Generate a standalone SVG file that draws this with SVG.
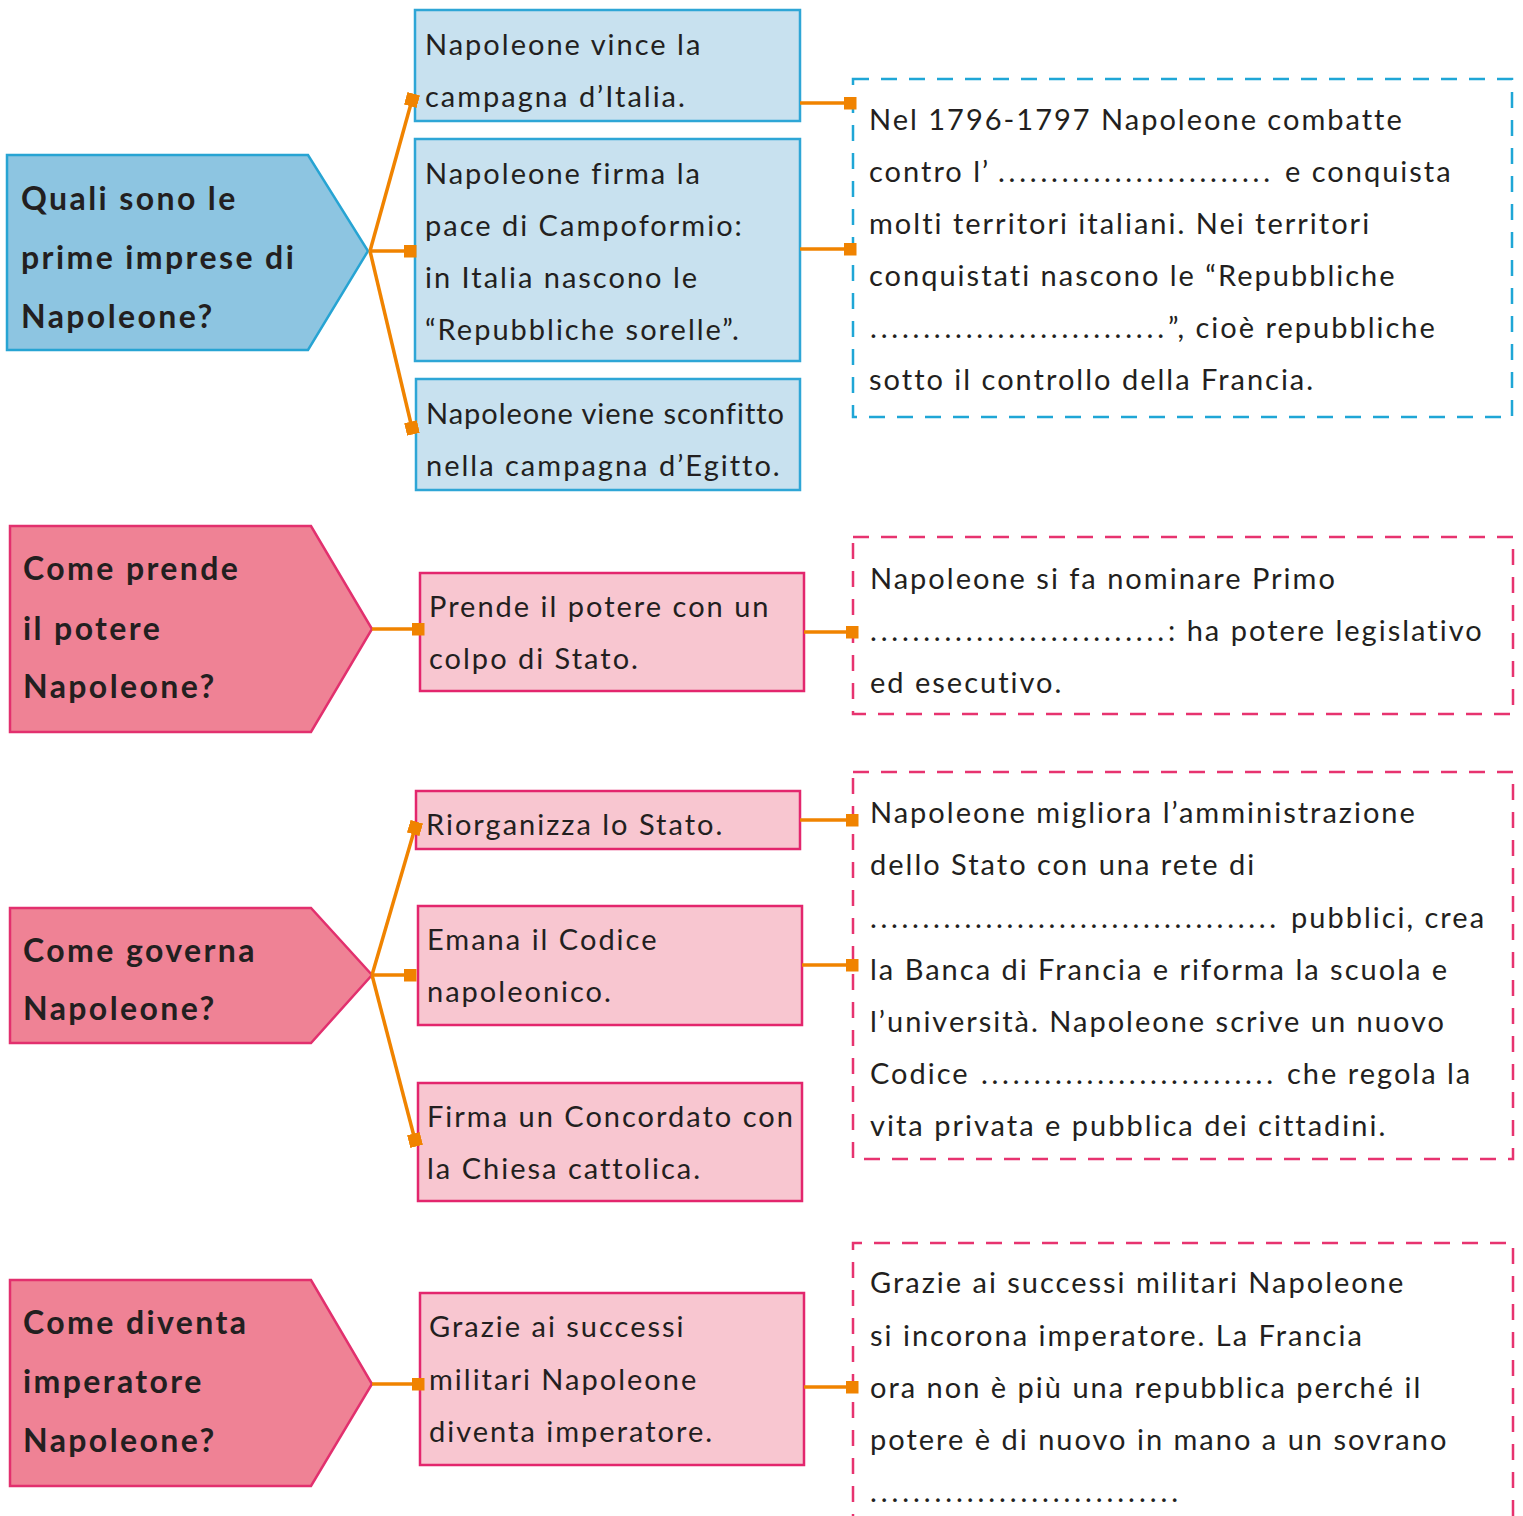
<svg xmlns="http://www.w3.org/2000/svg" width="1523" height="1516" viewBox="0 0 1523 1516">
<defs>
<style>
.t{font-family:Lato,"Open Sans","Liberation Sans",sans-serif;font-size:29px;letter-spacing:2px;fill:#231f20}
.q{font-family:Lato,"Open Sans","Liberation Sans",sans-serif;font-size:32px;font-weight:bold;letter-spacing:2.4px;fill:#231f20}
.d{font-family:Lato,"Open Sans","Liberation Sans",sans-serif;font-size:29px;fill:#231f20}
.qb{fill:#8dc5e1;stroke:#27a4d3;stroke-width:2.5}
.bb{fill:#c8e1ef;stroke:#2ea6d6;stroke-width:2.5}
.qp{fill:#ef8295;stroke:#e2306e;stroke-width:2.5}
.bp{fill:#f8c6d0;stroke:#e3266d;stroke-width:2.5}
.db{fill:none;stroke:#1fa6d6;stroke-width:2.5;stroke-dasharray:16 12}
.dp{fill:none;stroke:#e7336f;stroke-width:2.5;stroke-dasharray:16 12}
.c{fill:none;stroke:#f08300;stroke-width:3.5;marker-end:url(#sq)}
</style>
<marker id="sq" viewBox="0 0 10 10" refX="5" refY="5" markerWidth="13" markerHeight="13" markerUnits="userSpaceOnUse" orient="auto">
<rect x="0" y="0" width="10" height="10" fill="#f08300"/>
</marker>
</defs>

<g id="n1q">
<polygon class="qb" points="7,155 308,155 368,251 308,350 7,350"/>
<text class="q" x="21" y="210">Quali sono le</text>
<text class="q" x="21" y="269">prime imprese di</text>
<text class="q" x="21" y="328">Napoleone?</text>
</g>
<g id="n1a">
<rect class="bb" x="415" y="10" width="385" height="111"/>
<text class="t" x="425" y="55">Napoleone vince la</text>
<text class="t" x="425" y="107">campagna d’Italia.</text>
</g>
<g id="n1b">
<rect class="bb" x="415" y="139" width="385" height="222"/>
<text class="t" x="425" y="184">Napoleone firma la</text>
<text class="t" x="425" y="236">pace di Campoformio:</text>
<text class="t" x="425" y="288">in Italia nascono le</text>
<text class="t" x="425" y="340">“Repubbliche sorelle”.</text>
</g>
<g id="n1c">
<rect class="bb" x="416" y="379" width="384" height="111"/>
<text class="t" x="426" y="424" textLength="360" lengthAdjust="spacing">Napoleone viene sconfitto</text>
<text class="t" x="426" y="476">nella campagna d’Egitto.</text>
</g>
<g id="n1d">
<rect class="db" x="853" y="79" width="659" height="338"/>
<text class="t" x="869" y="130">Nel 1796-1797 Napoleone combatte</text>
<text class="t" x="869" y="182">contro l’</text>
<text class="d" x="998" y="182" textLength="272" lengthAdjust="spacing">..........................</text>
<text class="t" x="1285" y="182">e conquista</text>
<text class="t" x="869" y="234">molti territori italiani. Nei territori</text>
<text class="t" x="869" y="286">conquistati nascono le “Repubbliche</text>
<text class="d" x="870" y="338" textLength="294" lengthAdjust="spacing">............................</text>
<text class="t" x="1168" y="338">”, cioè repubbliche</text>
<text class="t" x="869" y="390">sotto il controllo della Francia.</text>
</g>

<g id="n2q">
<polygon class="qp" points="10,526 311,526 372,629 311,732 10,732"/>
<text class="q" x="23" y="580">Come prende</text>
<text class="q" x="23" y="640">il potere</text>
<text class="q" x="23" y="698">Napoleone?</text>
</g>
<g id="n2a">
<rect class="bp" x="420" y="573" width="384" height="118"/>
<text class="t" x="429" y="617">Prende il potere con un</text>
<text class="t" x="429" y="669">colpo di Stato.</text>
</g>
<g id="n2d">
<rect class="dp" x="853" y="537" width="660" height="177"/>
<text class="t" x="870" y="589">Napoleone si fa nominare Primo</text>
<text class="d" x="870" y="641" textLength="294" lengthAdjust="spacing">............................</text>
<text class="t" x="1168" y="641">: ha potere legislativo</text>
<text class="t" x="870" y="693">ed esecutivo.</text>
</g>

<g id="n3q">
<polygon class="qp" points="10,908 311,908 372,975 311,1043 10,1043"/>
<text class="q" x="23" y="962">Come governa</text>
<text class="q" x="23" y="1020">Napoleone?</text>
</g>
<g id="n3a">
<rect class="bp" x="416" y="791" width="384" height="58"/>
<text class="t" x="426" y="835">Riorganizza lo Stato.</text>
</g>
<g id="n3b">
<rect class="bp" x="418" y="906" width="384" height="119"/>
<text class="t" x="427" y="950">Emana il Codice</text>
<text class="t" x="427" y="1002">napoleonico.</text>
</g>
<g id="n3c">
<rect class="bp" x="418" y="1083" width="384" height="118"/>
<text class="t" x="427" y="1127">Firma un Concordato con</text>
<text class="t" x="427" y="1179">la Chiesa cattolica.</text>
</g>
<g id="n3d">
<rect class="dp" x="853" y="772" width="660" height="387"/>
<text class="t" x="870" y="823">Napoleone migliora l’amministrazione</text>
<text class="t" x="870" y="875">dello Stato con una rete di</text>
<text class="d" x="870" y="928" textLength="406" lengthAdjust="spacing">.......................................</text>
<text class="t" x="1291" y="928">pubblici, crea</text>
<text class="t" x="870" y="980">la Banca di Francia e riforma la scuola e</text>
<text class="t" x="870" y="1032">l’università. Napoleone scrive un nuovo</text>
<text class="t" x="870" y="1084">Codice</text>
<text class="d" x="981" y="1084" textLength="292" lengthAdjust="spacing">............................</text>
<text class="t" x="1287" y="1084">che regola la</text>
<text class="t" x="870" y="1136">vita privata e pubblica dei cittadini.</text>
</g>

<g id="n4q">
<polygon class="qp" points="10,1280 311,1280 372,1384 311,1486 10,1486"/>
<text class="q" x="23" y="1334">Come diventa</text>
<text class="q" x="23" y="1393">imperatore</text>
<text class="q" x="23" y="1452">Napoleone?</text>
</g>
<g id="n4a">
<rect class="bp" x="420" y="1293" width="384" height="172"/>
<text class="t" x="429" y="1337">Grazie ai successi</text>
<text class="t" x="429" y="1390">militari Napoleone</text>
<text class="t" x="429" y="1442">diventa imperatore.</text>
</g>
<g id="n4d">
<path class="dp" d="M853,1530 V1243 H1513 V1530"/>
<text class="t" x="870" y="1293">Grazie ai successi militari Napoleone</text>
<text class="t" x="870" y="1346">si incorona imperatore. La Francia</text>
<text class="t" x="870" y="1398">ora non è più una repubblica perché il</text>
<text class="t" x="870" y="1450">potere è di nuovo in mano a un sovrano</text>
<text class="d" x="870" y="1502" textLength="308" lengthAdjust="spacing">.............................</text>
</g>

<g id="connectors">
<path class="c" d="M370,251 L412,100"/>
<path class="c" d="M370,251 L410,251"/>
<path class="c" d="M370,251 L412,428"/>
<path class="c" d="M800,103 L850,103"/>
<path class="c" d="M800,249 L850,249"/>
<path class="c" d="M372,629 L418,629"/>
<path class="c" d="M804,632 L852,632"/>
<path class="c" d="M372,975 L415,828"/>
<path class="c" d="M372,975 L410,975"/>
<path class="c" d="M372,975 L415,1140"/>
<path class="c" d="M800,820 L852,820"/>
<path class="c" d="M802,965 L852,965"/>
<path class="c" d="M372,1384 L418,1384"/>
<path class="c" d="M804,1387 L852,1387"/>
</g>
</svg>
